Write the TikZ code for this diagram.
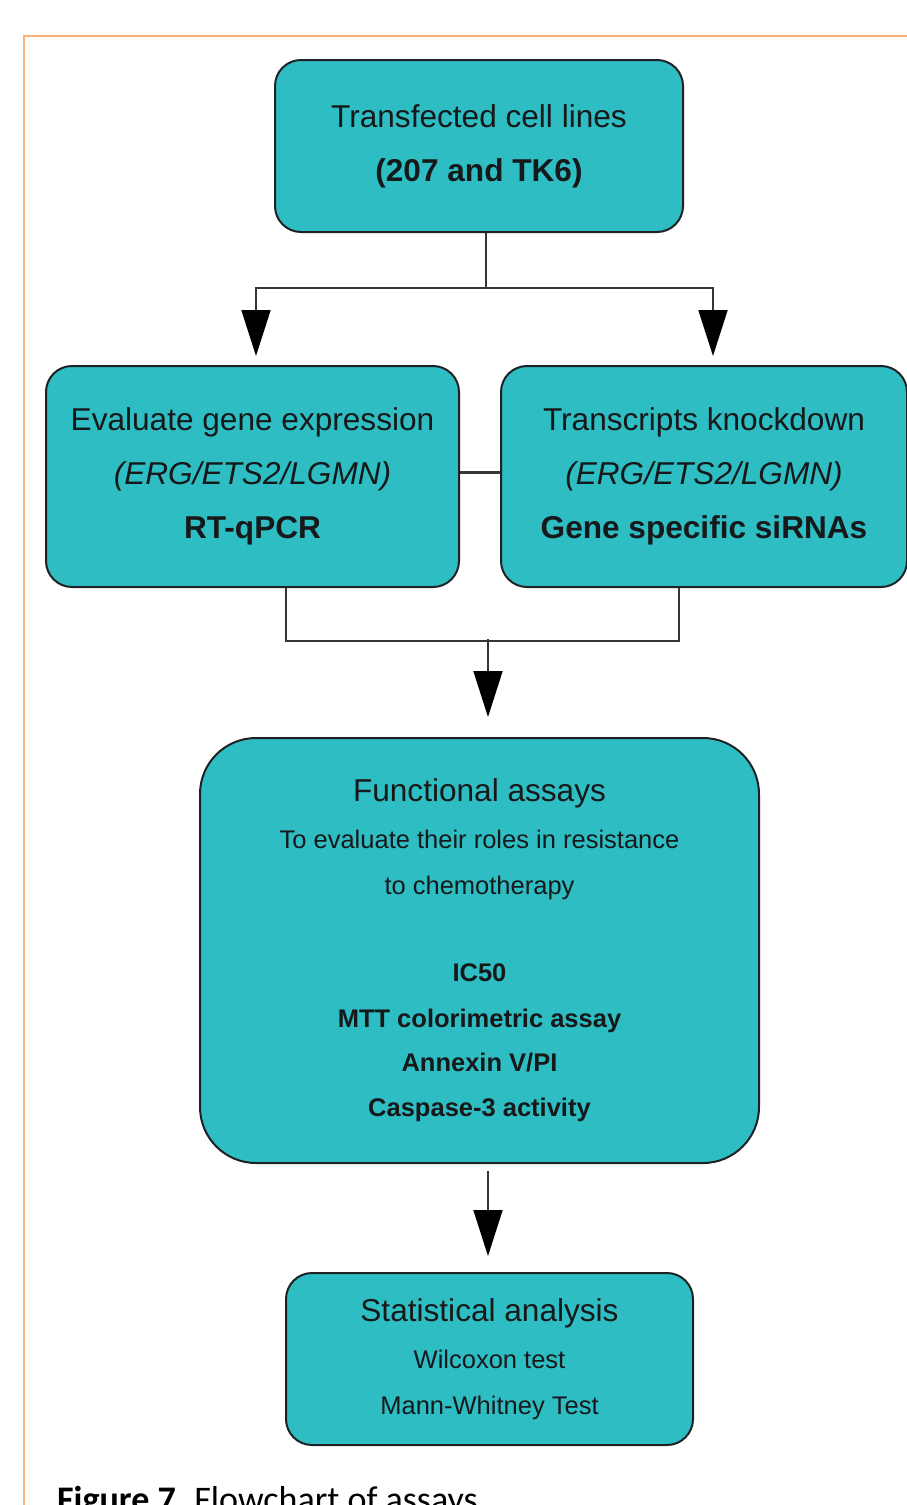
\documentclass[tikz,border=0pt]{standalone}
\usepackage{fontspec}
\setmainfont{Liberation Sans}
\newfontfamily\capfont{Carlito}
\usepackage{xcolor}
\usepackage{tikz}
\usetikzlibrary{arrows.meta,positioning,calc}
\definecolor{boxteal}{RGB}{46,189,194}
\definecolor{boxline}{RGB}{30,34,36}
\definecolor{frameorange}{RGB}{250,178,120}
\definecolor{textdark}{RGB}{22,24,26}
\newcommand{\bigtxt}{\fontsize{31.6}{54}\selectfont}
\newcommand{\smalltxt}{\fontsize{25.5}{46}\selectfont}
\tikzset{
  flowbox/.style={rectangle, rounded corners=26pt, draw=boxline, line width=2pt,
                  fill=boxteal, align=center, text=textdark, font=\bigtxt,
                  inner sep=0pt},
  link/.style={draw=boxline!90, line width=1.8pt},
  arr/.style={link, -{Triangle[length=46pt,width=29pt,color=black]}},
}

\begin{document}
\begin{tikzpicture}[x=1pt,y=1pt]
  \useasboundingbox (0,0) rectangle (907,-1505);
  \draw[frameorange, line width=1.6pt] (24,-1600) |- (1000,-36);

  \node[flowbox, minimum width=408, minimum height=172] (cells) at (479,-146)
    {Transfected cell lines\\ \textbf{(207 and TK6)}};
  \node[flowbox, minimum width=413, minimum height=221] (evalgene) at (252.5,-476.5)
    {Evaluate gene expression\\ \textit{(ERG/ETS2/LGMN)}\\ \textbf{RT-qPCR}};
  \node[flowbox, minimum width=406, minimum height=221] (knock) at (704,-476.5)
    {Transcripts knockdown\\ \textit{(ERG/ETS2/LGMN)}\\ \textbf{Gene specific siRNAs}};
  \node[flowbox, rounded corners=56pt, minimum width=559, minimum height=425] (assays) at (479.5,-950.5)
    {Functional assays\\[-7pt] \smalltxt To evaluate their roles in resistance\\[-8pt] \smalltxt to chemotherapy\\[33pt]
     \smalltxt\textbf{IC50}\\[-8pt] \smalltxt\textbf{MTT colorimetric assay}\\[-10pt] \smalltxt\textbf{Annexin V/PI}\\[-9pt]
     \smalltxt\textbf{Caspase-3 activity}};
  \node[flowbox, minimum width=407, minimum height=172] (stats) at (489.5,-1359)
    {Statistical analysis\\[-7pt] \smalltxt Wilcoxon test\\[-8pt] \smalltxt Mann-Whitney Test};

  \node[anchor=base west, inner sep=0pt, font=\capfont\fontsize{36}{40}\selectfont] (caption) at (57,-1511)
    {\textbf{Figure 7.}\hspace{9pt}Flowchart of assays};

  % split from the cell lines
  \coordinate (split) at ($(cells.south)+(7,-55)$);
  \draw[link] ($(cells.south)+(7,0)$) -- (split);
  \draw[arr] (split) -| ($(evalgene.north)+(3.5,9)$);
  \draw[arr] (split) -| ($(knock.north)+(9,9)$);
  \draw[link, line width=3pt] ($(evalgene.east)+(0,4)$) -- ($(knock.west)+(0,4)$);

  % join into the assays
  \coordinate (join) at ($(assays.north)+(8.5,98)$);
  \draw[link] ($(evalgene.south)+(33.5,0)$) |- ($(knock.south)+(-25,-53)$) -- ($(knock.south)+(-25,0)$);
  \draw[arr] (join) -- ($(assays.north)+(8.5,20)$);
  \draw[arr] ($(assays.south)+(8.5,-7)$) -- ($(stats.north)+(-1.5,16)$);
\end{tikzpicture}
\end{document}
